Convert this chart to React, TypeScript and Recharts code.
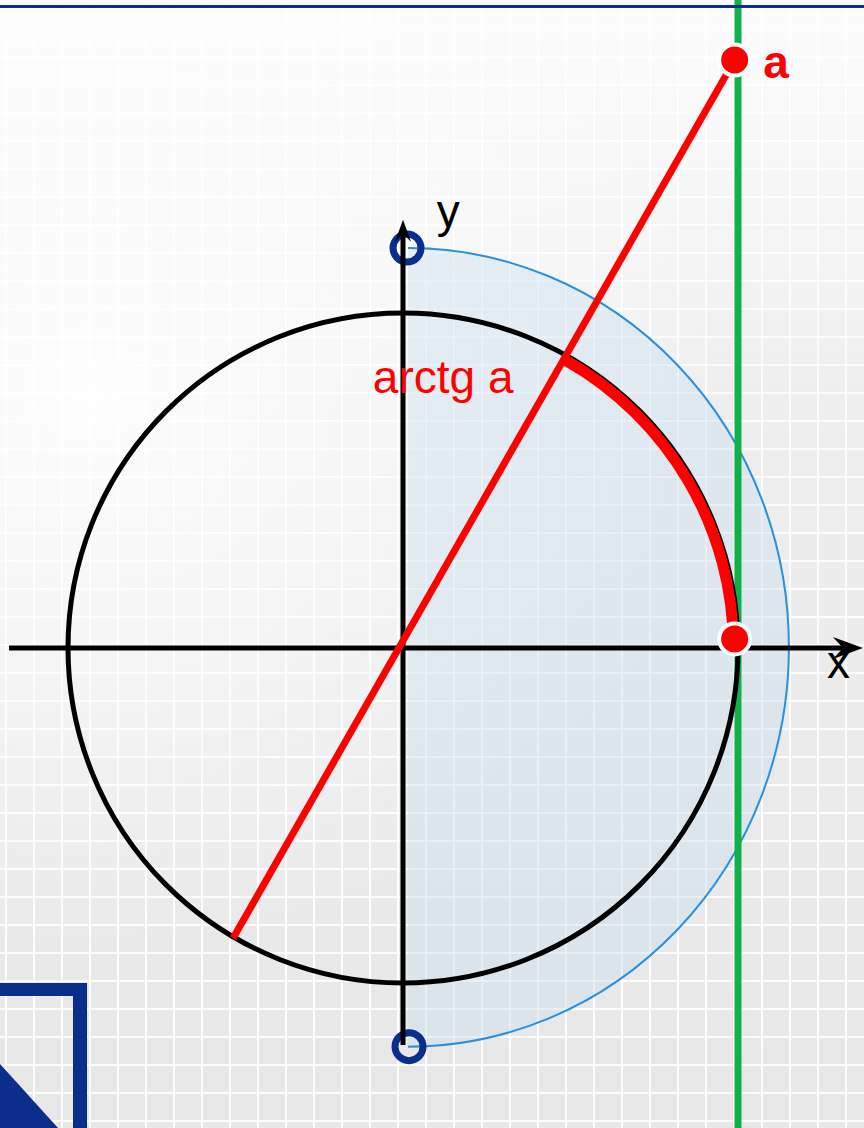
import React from "react";
import { ComposedChart, XAxis, YAxis, Line, ReferenceLine, ReferenceDot, Sector } from "recharts";

const W = 864;
const H = 1128;
// where the origin sits in the picture and how many pixels one unit takes
const ORIGIN = { x: 403, y: 648 };
const UNIT = 335;
const X_DOMAIN = [-ORIGIN.x / UNIT, (W - ORIGIN.x) / UNIT];
const Y_DOMAIN = [-(H - ORIGIN.y) / UNIT, ORIGIN.y / UNIT];

// values (1 = radius of the unit circle)
const tangentX = 1;
const arctgDeg = 60.4;
const xAxisPts = [{ x: -1.176, y: 0 }, { x: 1.373, y: 0 }];
const yAxisPts = [{ x: 0, y: -1.185 }, { x: 0, y: 1.278 }];
const rayPts = [{ x: -0.507, y: -0.866 }, { x: 0.99, y: 1.755 }];
const pointA = { x: 0.99, y: 1.755 };
const pointZero = { x: 0.99, y: 0.027 };
const rangeCenter = { x: 0.015, y: 0.002 };
const rangeRadii = { rx: 1.137, ry: 1.192 };
const rangeEnds = [{ x: 0.012, y: 1.194 }, { x: 0.018, y: -1.19 }];
const labels = [
  { text: "arctg a", x: -0.09, y: 0.761, color: "#ff0000", weight: 400 },
  { text: "a", x: 1.075, y: 1.701, color: "#ff0000", weight: 700 },
  { text: "y", x: 0.101, y: 1.257, color: "#000000", weight: 400 },
  { text: "x", x: 1.266, y: -0.09, color: "#000000", weight: 400 },
];

const FONT = '"Liberation Sans", Arial, sans-serif';
const NAVY = "#0b2d8c";

const arrowShape = (len: number, half: number, notch: number) => (p: any) => {
  const { x1, y1, x2, y2 } = p;
  const ang = Math.atan2(y2 - y1, x2 - x1);
  const c = Math.cos(ang);
  const s = Math.sin(ang);
  const pt = (back: number, side: number) => `${x2 - c * back - s * side},${y2 - s * back + c * side}`;
  return (
    <g>
      <line x1={x1} y1={y1} x2={x2 - c * notch} y2={y2 - s * notch} stroke="#000" strokeWidth={5} />
      <polygon points={[pt(0, 0), pt(len, half), pt(notch, 0), pt(len, -half)].join(" ")} fill="#000" />
    </g>
  );
};

const rangeShape = (p: any) => {
  const rx = rangeRadii.rx * UNIT;
  const ry = rangeRadii.ry * UNIT;
  const d = `M ${p.cx} ${p.cy - ry} A ${rx} ${ry} 0 0 1 ${p.cx} ${p.cy + ry}`;
  return (
    <g>
      <path d={d + " Z"} fill="#c9dcf0" fillOpacity={0.38} stroke="none" />
      <path d={d} fill="none" stroke="#2b8fdc" strokeWidth={2} />
    </g>
  );
};

const circleShape = (p: any) => (
  <circle cx={p.cx} cy={p.cy} r={UNIT} fill="none" stroke="#000" strokeWidth={5} />
);

const arcShape = (p: any) => (
  <Sector cx={p.cx} cy={p.cy} innerRadius={UNIT - 10} outerRadius={UNIT + 1} startAngle={0} endAngle={arctgDeg} fill="#ff0000" />
);

const ringShape = (p: any) => (
  <circle cx={p.cx} cy={p.cy} r={14} fill="none" stroke={NAVY} strokeWidth={7} />
);

export default function App() {
  return (
    <div
      style={{
        position: "absolute",
        left: 0,
        top: 0,
        width: W,
        height: H,
        overflow: "hidden",
        backgroundImage: [
          "radial-gradient(ellipse 75% 50% at 10% 35%, rgba(255,255,255,0.9), rgba(255,255,255,0) 100%)",
          "linear-gradient(180deg, rgba(255,255,255,0.8), rgba(255,255,255,0) 35%)",
          "repeating-linear-gradient(90deg, rgba(255,255,255,0.85) 0 2px, transparent 2px 28px)",
          "repeating-linear-gradient(180deg, rgba(255,255,255,0.85) 0 2px, transparent 2px 28px)",
          "linear-gradient(180deg, #f2f2f2, #e7e7e7)",
        ].join(","),
        backgroundPosition: "0 0, 0 0, 5px 0, 0 0, 0 0",
      }}
    >
      <ComposedChart width={W} height={H} margin={{ top: 0, right: 0, bottom: 0, left: 0 }}>
        <XAxis type="number" dataKey="x" domain={X_DOMAIN} allowDataOverflow hide />
        <YAxis type="number" dataKey="y" domain={Y_DOMAIN} allowDataOverflow hide />
        <ReferenceDot x={rangeCenter.x} y={rangeCenter.y} shape={rangeShape} zIndex={100} />
        <ReferenceLine x={tangentX} stroke="#10b04a" strokeWidth={7} zIndex={200} />
        <ReferenceDot x={0} y={0} shape={circleShape} zIndex={300} />
        {rangeEnds.map((e, i) => (
          <ReferenceDot key={i} x={e.x} y={e.y} shape={ringShape} zIndex={350} />
        ))}
        <ReferenceLine segment={xAxisPts} shape={arrowShape(30, 11, 20)} zIndex={400} />
        <ReferenceLine segment={yAxisPts} shape={arrowShape(22, 8, 14)} zIndex={400} />
        <Line
          data={rayPts}
          dataKey="y"
          type="linear"
          stroke="#ff0000"
          strokeWidth={7}
          dot={false}
          activeDot={false}
          isAnimationActive={false}
          zIndex={500}
        />
        <ReferenceDot x={0} y={0} shape={arcShape} zIndex={600} />
        {[pointA, pointZero].map((d, i) => (
          <ReferenceDot key={i} x={d.x} y={d.y} r={15.5} fill="#ff0000" stroke="#ffffff" strokeWidth={4} zIndex={700} />
        ))}
        {labels.map((l) => (
          <ReferenceDot
            key={l.text}
            x={l.x}
            y={l.y}
            zIndex={800}
            shape={(p: any) => (
              <text x={p.cx} y={p.cy} fill={l.color} fontFamily={FONT} fontSize={46} fontWeight={l.weight}>
                {l.text}
              </text>
            )}
          />
        ))}
      </ComposedChart>
      <div style={{ position: "absolute", left: 0, top: 5, width: W, height: 3, background: NAVY }} />
      <div
        style={{
          position: "absolute",
          left: -20,
          top: 983,
          width: 107,
          height: 200,
          boxSizing: "border-box",
          borderTop: `13px solid ${NAVY}`,
          borderRight: `14px solid ${NAVY}`,
        }}
      />
      <svg style={{ position: "absolute", left: 0, top: 0 }} width={W} height={H} pointerEvents="none">
        <polygon points="0,1064 58,1128 0,1128" fill={NAVY} />
      </svg>
    </div>
  );
}
